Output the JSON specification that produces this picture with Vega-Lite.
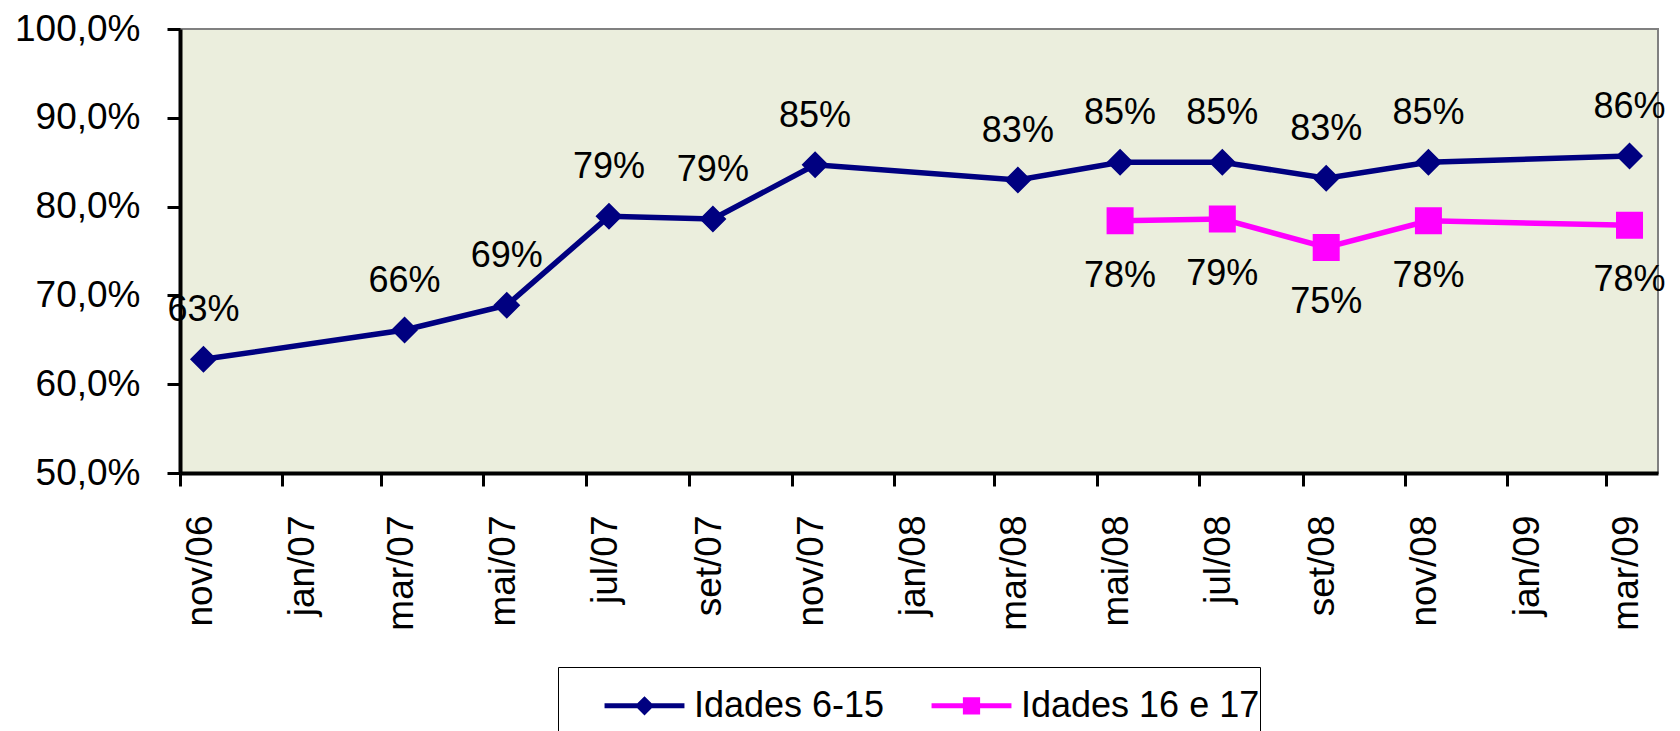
{
  "$schema": "https://vega.github.io/schema/vega-lite/v6.json",
  "width": 1478,
  "height": 444,
  "autosize": {"type": "none"},
  "padding": {"left": 180, "top": 29, "right": 22, "bottom": 258},
  "background": "white",
  "config": {
    "view": {"fill": "#EBEEDD", "stroke": "#808080", "strokeWidth": 2},
    "font": "Liberation Sans",
    "text": {"font": "Liberation Sans"}
  },
  "data": {
    "values": [
      {"mes": "2006-11-15", "serie": "Idades 6-15", "taxa": 0.628},
      {"mes": "2007-03-15", "serie": "Idades 6-15", "taxa": 0.661},
      {"mes": "2007-05-15", "serie": "Idades 6-15", "taxa": 0.689},
      {"mes": "2007-07-15", "serie": "Idades 6-15", "taxa": 0.789},
      {"mes": "2007-09-15", "serie": "Idades 6-15", "taxa": 0.786},
      {"mes": "2007-11-15", "serie": "Idades 6-15", "taxa": 0.847},
      {"mes": "2008-03-15", "serie": "Idades 6-15", "taxa": 0.830},
      {"mes": "2008-05-15", "serie": "Idades 6-15", "taxa": 0.850},
      {"mes": "2008-07-15", "serie": "Idades 6-15", "taxa": 0.850},
      {"mes": "2008-09-15", "serie": "Idades 6-15", "taxa": 0.832},
      {"mes": "2008-11-15", "serie": "Idades 6-15", "taxa": 0.850},
      {"mes": "2009-03-15", "serie": "Idades 6-15", "taxa": 0.857},
      {"mes": "2008-05-15", "serie": "Idades 16 e 17", "taxa": 0.784},
      {"mes": "2008-07-15", "serie": "Idades 16 e 17", "taxa": 0.786},
      {"mes": "2008-09-15", "serie": "Idades 16 e 17", "taxa": 0.754},
      {"mes": "2008-11-15", "serie": "Idades 16 e 17", "taxa": 0.784},
      {"mes": "2009-03-15", "serie": "Idades 16 e 17", "taxa": 0.779}
    ]
  },
  "encoding": {
    "x": {
      "field": "mes",
      "type": "temporal",
      "title": null,
      "scale": {
        "type": "utc",
        "domain": [
          {"year": 2006, "month": 11, "date": 1, "utc": true},
          {"year": 2009, "month": 4, "date": 1, "utc": true}
        ]
      },
      "axis": {
        "values": [
          {"year": 2006, "month": 11, "date": 1, "utc": true},
          {"year": 2007, "month": 1, "date": 1, "utc": true},
          {"year": 2007, "month": 3, "date": 1, "utc": true},
          {"year": 2007, "month": 5, "date": 1, "utc": true},
          {"year": 2007, "month": 7, "date": 1, "utc": true},
          {"year": 2007, "month": 9, "date": 1, "utc": true},
          {"year": 2007, "month": 11, "date": 1, "utc": true},
          {"year": 2008, "month": 1, "date": 1, "utc": true},
          {"year": 2008, "month": 3, "date": 1, "utc": true},
          {"year": 2008, "month": 5, "date": 1, "utc": true},
          {"year": 2008, "month": 7, "date": 1, "utc": true},
          {"year": 2008, "month": 9, "date": 1, "utc": true},
          {"year": 2008, "month": 11, "date": 1, "utc": true},
          {"year": 2009, "month": 1, "date": 1, "utc": true},
          {"year": 2009, "month": 3, "date": 1, "utc": true}
        ],
        "labelExpr": "['jan','fev','mar','abr','mai','jun','jul','ago','set','out','nov','dez'][utcmonth(datum.value)] + '/' + utcFormat(datum.value, '%y')",
        "labelAngle": -90,
        "labelAlign": "right",
        "labelBaseline": "middle",
        "labelOffset": 20,
        "labelFontSize": 37,
        "labelColor": "black",
        "labelFont": "Liberation Sans",
        "labelPadding": 29,
        "labelOverlap": false,
        "labelFlush": false,
        "labelBound": false,
        "tickSize": 13,
        "tickWidth": 3,
        "tickColor": "black",
        "domainColor": "black",
        "domainWidth": 4,
        "grid": false,
        "zindex": 1
      }
    },
    "y": {
      "field": "taxa",
      "type": "quantitative",
      "title": null,
      "scale": {"domain": [0.5, 1.0], "nice": false, "zero": false},
      "axis": {
        "values": [0.5, 0.6, 0.7, 0.8, 0.9, 1.0],
        "labelExpr": "replace(format(datum.value, '.1%'), '.', ',')",
        "labelFontSize": 37,
        "labelColor": "black",
        "labelFont": "Liberation Sans",
        "labelPadding": 27,
        "labelFlush": false,
        "labelOverlap": false,
        "labelBound": false,
        "tickSize": 13,
        "tickWidth": 3,
        "tickColor": "black",
        "domainColor": "black",
        "domainWidth": 4,
        "grid": false,
        "zindex": 1
      }
    }
  },
  "layer": [
    {
      "mark": {"type": "line", "strokeWidth": 5.5},
      "encoding": {
        "stroke": {
          "field": "serie",
          "type": "nominal",
          "scale": {"domain": ["Idades 6-15", "Idades 16 e 17"], "range": ["#000080", "#FF00FF"]},
          "legend": {
            "title": null,
            "orient": "none",
            "direction": "horizontal",
            "legendX": 378,
            "legendY": 638,
            "padding": 0,
            "fillColor": "white",
            "strokeColor": "black",
            "symbolOffset": 48,
            "symbolSize": 5184,
            "symbolStrokeWidth": 5,
            "symbolOpacity": 1,
            "labelFontSize": 36,
            "labelFont": "Liberation Sans",
            "labelColor": "black",
            "labelOffset": 11,
            "labelLimit": 500,
            "columnPadding": 0
          }
        }
      }
    },
    {
      "mark": {"type": "point", "filled": true, "opacity": 1, "size": 25220, "strokeWidth": 0},
      "encoding": {
        "fill": {
          "field": "serie",
          "type": "nominal",
          "scale": {"domain": ["Idades 6-15", "Idades 16 e 17"], "range": ["#000080", "#FF00FF"]}
        },
        "shape": {
          "field": "serie",
          "type": "nominal",
          "scale": {
            "domain": ["Idades 6-15", "Idades 16 e 17"],
            "range": [
              "M-1.11,0L1.11,0M-0.17,0L0,-0.17L0.17,0L0,0.17ZM0,1.8",
              "M-1.11,0L1.11,0M-0.17,-0.17L0.17,-0.17L0.17,0.17L-0.17,0.17ZM0,1.8"
            ]
          }
        }
      }
    },
    {
      "transform": [{"filter": "datum.serie === 'Idades 6-15'"}],
      "mark": {"type": "text", "dy": -49, "fontSize": 36, "fill": "black", "font": "Liberation Sans", "baseline": "middle"},
      "encoding": {
        "text": {"field": "taxa", "type": "quantitative", "format": ".0%"}
      }
    },
    {
      "transform": [{"filter": "datum.serie === 'Idades 16 e 17'"}],
      "mark": {"type": "text", "dy": 55, "fontSize": 36, "fill": "black", "font": "Liberation Sans", "baseline": "middle"},
      "encoding": {
        "text": {"field": "taxa", "type": "quantitative", "format": ".0%"}
      }
    }
  ]
}
